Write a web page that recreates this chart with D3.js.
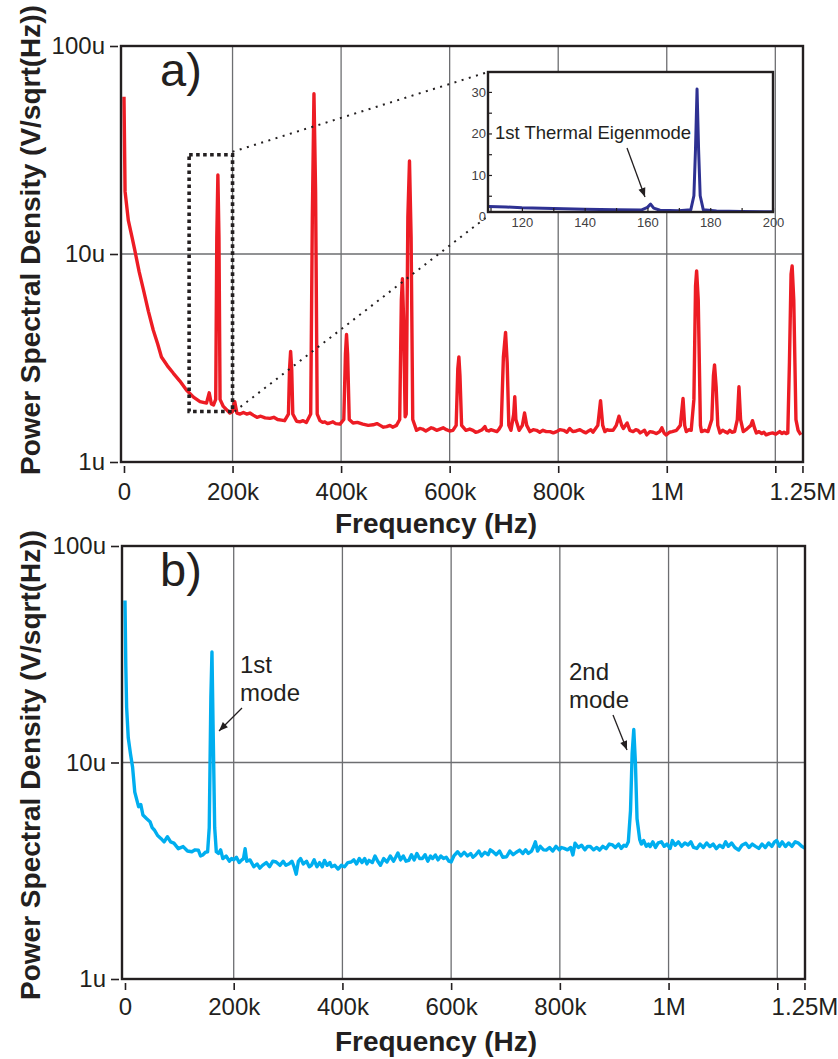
<!DOCTYPE html>
<html>
<head>
<meta charset="utf-8">
<script src="https://cdn.jsdelivr.net/npm/d3@7"></script>
<style>
  body { margin: 0; background: #fff; }
  svg text { font-family: "Liberation Sans", Arial, Helvetica, sans-serif; fill: #231f20; }
</style>
</head>
<body>
<svg id="chart" width="838" height="1059"></svg>
<script>
// ---- data: [frequency kHz, PSD uV/sqrt(Hz)] ----
const spectrumA = [
  [0, 57], [2, 20], [8, 14.5], [15, 12], [20, 10.4], [28, 8.2], [36, 6.7], [45, 5.3], [54, 4.3], [62, 3.7],
  [69, 3.2], [80, 2.9], [91, 2.67], [103, 2.45], [115, 2.22], [128, 2.05], [140, 1.95], [152, 1.92], [157, 2.15], [161, 1.9],
  [165, 1.88], [169, 2.0], [171, 12], [173, 24], [175, 12], [177, 2.0], [183, 1.85], [195, 1.72], [200, 1.75], [204, 1.95],
  [208, 1.72], [214, 1.70], [220, 1.73], [226, 1.70], [232, 1.72], [238, 1.68], [245, 1.64], [252, 1.66], [260, 1.63], [269, 1.62],
  [276, 1.64], [283, 1.60], [290, 1.59], [296, 1.58], [303, 1.7], [305, 2.8], [307, 3.4], [309, 2.8], [311, 1.7], [318, 1.57],
  [324, 1.56], [330, 1.58], [336, 1.55], [344, 1.7], [347, 15], [350, 59], [353, 20], [356, 1.7], [361, 1.58], [366, 1.55],
  [370, 1.56], [375, 1.53], [379, 1.54], [385, 1.56], [390, 1.53], [398, 1.52], [405, 1.6], [408, 3.3], [410, 4.1], [412, 3.3],
  [415, 1.6], [422, 1.54], [430, 1.55], [440, 1.52], [450, 1.50], [459, 1.51], [466, 1.53], [472, 1.50], [478, 1.47], [484, 1.48],
  [490, 1.50], [495, 1.47], [502, 1.5], [508, 1.6], [511, 6.0], [513, 7.6], [515, 5.0], [518, 1.65], [520, 1.7], [523, 15],
  [526, 28], [529, 12], [532, 1.6], [539, 1.42], [545, 1.45], [550, 1.44], [556, 1.41], [560, 1.43], [566, 1.46], [570, 1.45],
  [576, 1.42], [582, 1.44], [588, 1.46], [594, 1.43], [600, 1.41], [606, 1.42], [612, 1.5], [615, 2.8], [617, 3.2], [619, 2.6],
  [622, 1.5], [630, 1.42], [637, 1.44], [643, 1.42], [648, 1.39], [653, 1.40], [660, 1.43], [665, 1.48], [668, 1.42], [672, 1.41],
  [676, 1.43], [680, 1.42], [687, 1.40], [691, 1.44], [695, 1.5], [699, 3.2], [703, 4.2], [706, 3.0], [709, 1.5], [713, 1.42],
  [718, 1.7], [720, 2.06], [722, 1.6], [728, 1.42], [734, 1.5], [738, 1.72], [742, 1.5], [748, 1.40], [754, 1.43], [760, 1.42],
  [766, 1.39], [772, 1.42], [778, 1.40], [785, 1.40], [791, 1.38], [797, 1.40], [803, 1.43], [810, 1.42], [816, 1.39], [821, 1.45],
  [827, 1.40], [833, 1.41], [840, 1.43], [846, 1.40], [851, 1.38], [856, 1.41], [860, 1.43], [864, 1.39], [873, 1.5], [878, 1.97],
  [882, 1.5], [886, 1.40], [890, 1.43], [894, 1.42], [901, 1.42], [907, 1.5], [912, 1.66], [917, 1.5], [920, 1.45], [927, 1.54],
  [932, 1.42], [938, 1.40], [943, 1.43], [947, 1.42], [951, 1.38], [955, 1.40], [959, 1.42], [963, 1.35], [969, 1.40], [975, 1.39],
  [981, 1.37], [987, 1.40], [991, 1.46], [995, 1.38], [999, 1.35], [1005, 1.39], [1010, 1.40], [1018, 1.42], [1025, 1.5], [1030, 2.02],
  [1033, 1.5], [1036, 1.40], [1041, 1.43], [1045, 1.42], [1050, 2.0], [1053, 7.0], [1055, 8.3], [1058, 6.0], [1062, 1.5], [1064, 1.40],
  [1070, 1.42], [1076, 1.40], [1083, 1.6], [1086, 2.6], [1088, 2.93], [1091, 2.3], [1094, 1.5], [1098, 1.38], [1103, 1.42], [1107, 1.40],
  [1112, 1.38], [1116, 1.42], [1120, 1.39], [1125, 1.40], [1130, 1.6], [1133, 2.30], [1136, 1.6], [1141, 1.40], [1146, 1.43], [1150, 1.46],
  [1155, 1.5], [1158, 1.58], [1162, 1.45], [1165, 1.38], [1170, 1.40], [1175, 1.37], [1179, 1.39], [1183, 1.35], [1189, 1.37], [1195, 1.38],
  [1201, 1.36], [1208, 1.40], [1212, 1.37], [1216, 1.39], [1220, 1.37], [1223, 1.38], [1226, 3.0], [1229, 8.0], [1231, 8.76], [1234, 6],
  [1238, 1.6], [1242, 1.42], [1247, 1.35]
];

const spectrumB = [
  [0, 56], [1.5, 28], [3, 18], [6, 13], [10, 11], [14, 9.5], [18, 7.3], [25, 6.25], [29, 6.4], [33, 5.72],
  [40, 5.5], [46, 5.33], [50, 5.0], [54, 4.88], [60, 4.6], [66, 4.46], [72, 4.3], [78, 4.54], [84, 4.3], [90, 4.24],
  [98, 4.0], [107, 4.09], [115, 3.9], [123, 3.87], [129, 3.95], [135, 3.94], [139, 3.7], [143, 3.74], [148, 3.85], [152, 3.87],
  [155, 5], [158, 20], [160, 32.4], [162, 15], [165, 5], [168, 3.87], [172, 3.8], [176, 3.95], [180, 3.6], [186, 3.7],
  [192, 3.5], [196, 3.6], [200, 3.55], [205, 3.65], [210, 3.45], [215, 3.55], [218, 3.6], [221, 4.0], [224, 3.5], [230, 3.55],
  [237, 3.3], [243, 3.4], [248, 3.25], [253, 3.35], [260, 3.45], [266, 3.3], [272, 3.5], [278, 3.47], [285, 3.35], [291, 3.5],
  [296, 3.35], [302, 3.41], [307, 3.5], [311, 3.3], [315, 3.05], [319, 3.5], [323, 3.6], [328, 3.4], [334, 3.5], [339, 3.3],
  [343, 3.35], [348, 3.55], [353, 3.3], [358, 3.45], [363, 3.3], [367, 3.53], [372, 3.35], [377, 3.45], [380, 3.3], [386, 3.35],
  [392, 3.22], [398, 3.35], [404, 3.3], [410, 3.45], [416, 3.47], [421, 3.55], [426, 3.4], [431, 3.6], [436, 3.45], [441, 3.6],
  [445, 3.4], [449, 3.53], [455, 3.45], [460, 3.7], [465, 3.5], [470, 3.35], [476, 3.6], [482, 3.47], [488, 3.7], [494, 3.5],
  [498, 3.65], [502, 3.82], [507, 3.55], [512, 3.7], [517, 3.5], [522, 3.53], [527, 3.75], [532, 3.55], [537, 3.8], [542, 3.6],
  [547, 3.6], [552, 3.75], [557, 3.5], [562, 3.7], [566, 3.6], [571, 3.74], [576, 3.55], [581, 3.7], [586, 3.6], [591, 3.65],
  [596, 3.5], [600, 3.47], [605, 3.7], [612, 3.87], [618, 3.7], [624, 3.85], [630, 3.7], [636, 3.8], [640, 3.65], [645, 3.74],
  [651, 3.9], [656, 3.7], [662, 3.85], [668, 3.75], [672, 3.95], [677, 3.87], [683, 3.75], [689, 3.9], [695, 3.65], [702, 3.67],
  [708, 3.9], [714, 3.75], [720, 3.85], [726, 3.94], [732, 3.8], [737, 3.95], [742, 3.80], [748, 3.9], [752, 4.1], [755, 4.3],
  [759, 3.9], [764, 4.1], [770, 3.95], [775, 3.94], [781, 4.05], [787, 3.9], [793, 4.1], [799, 3.95], [803, 4.05], [808, 4.01],
  [814, 3.95], [820, 4.05], [824, 3.74], [828, 4.24], [834, 4.05], [840, 4.15], [846, 3.95], [851, 4.1], [856, 4.09], [862, 3.95],
  [868, 4.05], [873, 3.94], [879, 4.1], [885, 4.0], [891, 4.2], [897, 4.16], [902, 4.05], [908, 4.2], [913, 4.01], [918, 4.15],
  [922, 4.1], [926, 4.3], [930, 6], [933, 11], [936, 14.2], [939, 10], [942, 5.5], [947, 4.4], [950, 4.2], [954, 4.36],
  [959, 4.1], [963, 4.2], [966, 4.09], [971, 4.3], [976, 4.05], [981, 4.25], [987, 4.3], [992, 4.1], [997, 4.2], [1003, 4.01],
  [1007, 4.36], [1012, 4.15], [1018, 4.3], [1024, 4.1], [1030, 4.25], [1036, 4.16], [1041, 4.3], [1046, 4.05], [1052, 4.01], [1058, 4.2],
  [1064, 4.05], [1070, 4.25], [1076, 4.09], [1082, 4.2], [1088, 4.0], [1094, 4.15], [1100, 4.05], [1105, 4.3], [1110, 4.1], [1116, 4.25],
  [1122, 4.05], [1129, 3.94], [1135, 4.15], [1142, 4.24], [1148, 4.05], [1154, 4.2], [1160, 4.1], [1166, 4.01], [1172, 4.2], [1178, 4.05],
  [1184, 4.25], [1190, 4.1], [1195, 4.3], [1199, 4.36], [1204, 4.1], [1209, 4.3], [1215, 4.09], [1221, 4.25], [1227, 4.1], [1233, 4.3],
  [1239, 4.24], [1245, 4.1], [1252, 4.01]
];

// inset: frequency in kHz, PSD in uV/sqrt(Hz) (linear)
const insetFreq = [109.5, 115, 120, 130, 140, 150, 158, 160, 161, 162, 164, 170,
  173.8, 174.8, 175.3, 175.8, 176.3, 176.8, 177.8, 182, 190, 200];
const insetPsd = [2.4, 2.3, 2.1, 1.9, 1.75, 1.6, 1.55, 2.2, 3.0, 2.0, 1.5, 1.4,
  1.6, 5, 16, 30.7, 16, 5, 1.6, 1.3, 1.2, 1.15];

const xTickVals = [0, 200, 400, 600, 800, 1000, 1200, 1250];
const xTickLabels = ['0', '200k', '400k', '600k', '800k', '1M', '', '1.25M'];
const gridFreqs = [200, 400, 600, 800, 1000, 1200];
const yTickVals = [1, 10, 100];
const yTickLabels = ['1u', '10u', '100u'];
const insetXTicks = [110, 120, 130, 140, 150, 160, 170, 180, 190, 200];
const insetXLabels = [120, 140, 160, 180, 200];
const insetYTicks = [5, 10, 15, 20, 25, 30];
const insetYLabels = [0, 10, 20, 30];
// zoomed region in panel a: [f0, f1] kHz x [v0, v1] uV/sqrt(Hz)
const zoomFreq = [120, 200];
const zoomPsd = [1.75, 30];

const svg = d3.select('#chart');
const INK = '#231f20';

svg.append('defs').append('marker')
  .attr('id', 'arrow')
  .attr('viewBox', '0 0 10 10')
  .attr('refX', 10).attr('refY', 5)
  .attr('markerWidth', 10).attr('markerHeight', 9)
  .attr('markerUnits', 'userSpaceOnUse')
  .attr('orient', 'auto')
  .append('path').attr('d', 'M0,1 L10,5 L0,9 z').attr('fill', INK);

function drawPanel(p) {
  const x = d3.scaleLinear().domain([-5.5, 1251]).range([p.left, p.right]);
  const y = d3.scaleLog().domain([1, 100]).range([p.bottom, p.top]);
  const g = svg.append('g');

  // grid
  g.selectAll('.vgrid').data(gridFreqs).enter().append('line')
    .attr('x1', d => x(d)).attr('x2', d => x(d))
    .attr('y1', p.top).attr('y2', p.bottom)
    .attr('stroke', '#6d6e71').attr('stroke-width', 1.3);
  g.append('line')
    .attr('x1', p.left).attr('x2', p.right)
    .attr('y1', y(10)).attr('y2', y(10))
    .attr('stroke', '#6d6e71').attr('stroke-width', 1.3);

  // curve
  const clipId = 'clip-' + p.name;
  svg.append('clipPath').attr('id', clipId).append('rect')
    .attr('x', p.left).attr('y', p.top)
    .attr('width', p.right - p.left).attr('height', p.bottom - p.top);
  const line = d3.line().x(d => x(d[0])).y(d => y(d[1]));
  g.append('path')
    .datum(p.data)
    .attr('d', line)
    .attr('clip-path', `url(#${clipId})`)
    .attr('fill', 'none')
    .attr('stroke', p.color)
    .attr('stroke-width', 3.4)
    .attr('stroke-linejoin', 'round');

  // frame
  g.append('rect')
    .attr('x', p.left).attr('y', p.top)
    .attr('width', p.right - p.left).attr('height', p.bottom - p.top)
    .attr('fill', 'none').attr('stroke', INK).attr('stroke-width', 2.4);

  // axes
  const xAxis = g.append('g')
    .attr('transform', `translate(0,${p.bottom + 4})`)
    .call(d3.axisBottom(x).tickValues(xTickVals)
      .tickFormat((d, i) => xTickLabels[i]).tickSize(7).tickPadding(p.xPad));
  const yAxis = g.append('g')
    .attr('transform', `translate(${p.left - 3},0)`)
    .call(d3.axisLeft(y).tickValues(yTickVals)
      .tickFormat((d, i) => yTickLabels[i]).tickSize(8).tickPadding(5));
  [xAxis, yAxis].forEach(a => {
    a.select('.domain').remove();
    a.selectAll('.tick line').attr('stroke', INK).attr('stroke-width', 1.6);
    a.selectAll('text').attr('font-size', 24).style('fill', INK);
  });

  // titles
  g.append('text')
    .attr('x', 436).attr('y', p.xTitleY)
    .attr('text-anchor', 'middle')
    .attr('font-size', 28).attr('font-weight', 'bold')
    .text('Frequency (Hz)');
  g.append('text')
    .attr('transform', `translate(40,${p.yTitleY}) rotate(-90)`)
    .attr('text-anchor', 'middle')
    .attr('font-size', 28).attr('font-weight', 'bold')
    .text('Power Spectral Density (V/sqrt(Hz))');
  g.append('text')
    .attr('x', 160).attr('y', p.top + 40)
    .attr('font-size', 47)
    .text(p.name + ')');

  return { x, y, g };
}

// ---- panel a ----
const a = drawPanel({
  name: 'a', left: 121, right: 803, top: 46, bottom: 462,
  data: spectrumA, color: '#ed1c24',
  xPad: 10, xTitleY: 533, yTitleY: 240
});

// zoom rectangle and connector lines
const inset = { left: 488, right: 773, top: 72, bottom: 212 };
const zx0 = a.x(zoomFreq[0]), zx1 = a.x(zoomFreq[1]);
const zy0 = a.y(zoomPsd[0]), zy1 = a.y(zoomPsd[1]);
a.g.append('rect')
  .attr('x', zx0).attr('y', zy1)
  .attr('width', zx1 - zx0).attr('height', zy0 - zy1)
  .attr('fill', 'none').attr('stroke', INK)
  .attr('stroke-width', 3.6).attr('stroke-dasharray', '3.6 3.4');
[[zx1, zy1 - 3, inset.left, inset.top], [zx1 + 2, zy0, inset.left, inset.bottom + 4]].forEach(c => {
  a.g.append('line')
    .attr('x1', c[0]).attr('y1', c[1]).attr('x2', c[2]).attr('y2', c[3])
    .attr('stroke', INK).attr('stroke-width', 2)
    .attr('stroke-dasharray', '2 5.5');
});

// inset
const ix = d3.scaleLinear().domain([109.2, 200]).range([inset.left, inset.right]);
const iy = d3.scaleLinear().domain([0, 34.8]).range([216.5, inset.top]);
const ig = svg.append('g');
ig.append('rect')
  .attr('x', inset.left).attr('y', inset.top)
  .attr('width', inset.right - inset.left).attr('height', inset.bottom - inset.top)
  .attr('fill', '#fff');
svg.append('clipPath').attr('id', 'clip-inset').append('rect')
  .attr('x', inset.left).attr('y', inset.top)
  .attr('width', inset.right - inset.left).attr('height', inset.bottom - inset.top);
ig.append('path')
  .datum(insetFreq.map((f, i) => [f, insetPsd[i]]))
  .attr('d', d3.line().x(d => ix(d[0])).y(d => iy(d[1])))
  .attr('clip-path', 'url(#clip-inset)')
  .attr('fill', 'none').attr('stroke', '#2e3192')
  .attr('stroke-width', 3).attr('stroke-linejoin', 'round');

const ixTicks = ig.append('g').attr('transform', `translate(0,${inset.bottom})`)
  .call(d3.axisTop(ix).tickValues(insetXTicks).tickSize(4).tickFormat(''));
const iyTicks = ig.append('g').attr('transform', `translate(${inset.left},0)`)
  .call(d3.axisRight(iy).tickValues(insetYTicks).tickSize(4).tickFormat(''));
const ixLabels = ig.append('g').attr('transform', `translate(0,${inset.bottom})`)
  .call(d3.axisBottom(ix).tickValues(insetXLabels).tickSize(0).tickPadding(6));
const iyLabels = ig.append('g').attr('transform', `translate(${inset.left},0)`)
  .call(d3.axisLeft(iy).tickValues(insetYLabels).tickSize(0).tickPadding(2));
[ixTicks, iyTicks, ixLabels, iyLabels].forEach(t => {
  t.select('.domain').remove();
  t.selectAll('.tick line').attr('stroke', INK).attr('stroke-width', 1.2);
  t.selectAll('text').attr('font-size', 13).style('fill', '#414042');
});
ig.append('rect')
  .attr('x', inset.left).attr('y', inset.top)
  .attr('width', inset.right - inset.left).attr('height', inset.bottom - inset.top)
  .attr('fill', 'none').attr('stroke', INK).attr('stroke-width', 2.4);
ig.append('text')
  .attr('x', 495).attr('y', 139)
  .attr('font-size', 18.5)
  .text('1st Thermal Eigenmode');
ig.append('line')
  .attr('x1', 627).attr('y1', 148).attr('x2', 645).attr('y2', 197)
  .attr('stroke', INK).attr('stroke-width', 1.3)
  .attr('marker-end', 'url(#arrow)');

// ---- panel b ----
const b = drawPanel({
  name: 'b', left: 122, right: 805, top: 546, bottom: 979,
  data: spectrumB, color: '#00aeef',
  xPad: 8, xTitleY: 1051, yTitleY: 765
});

const notes = [
  { lines: ['1st', 'mode'], x: 240, y: 673, arrow: [242, 708, 219, 731] },
  { lines: ['2nd', 'mode'], x: 569, y: 680, arrow: [613, 715, 627, 750] }
];
notes.forEach(n => {
  const t = b.g.append('text').attr('x', n.x).attr('y', n.y).attr('font-size', 24);
  n.lines.forEach((s, i) => {
    t.append('tspan').attr('x', n.x).attr('dy', i === 0 ? 0 : 28).text(s);
  });
  b.g.append('line')
    .attr('x1', n.arrow[0]).attr('y1', n.arrow[1])
    .attr('x2', n.arrow[2]).attr('y2', n.arrow[3])
    .attr('stroke', INK).attr('stroke-width', 1.3)
    .attr('marker-end', 'url(#arrow)');
});
</script>
</body>
</html>
